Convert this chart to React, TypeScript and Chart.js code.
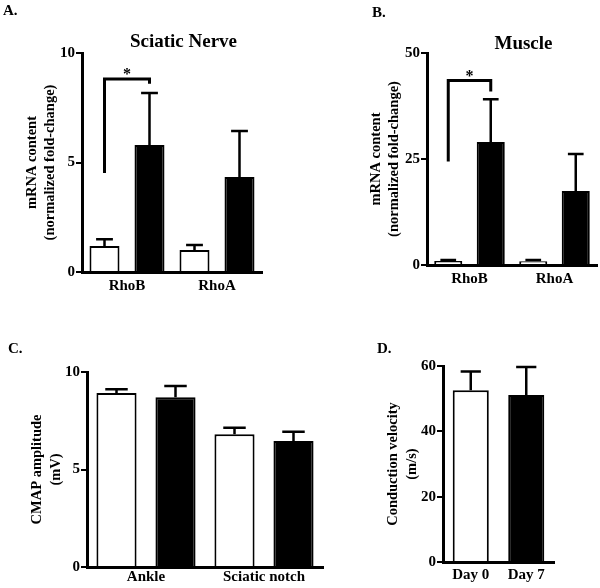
import React, { useEffect, useRef } from 'react';
import { Chart, registerables } from 'chart.js';

Chart.register(...registerables);

const SERIF = "'Liberation Serif', 'Times New Roman', Times, serif";

// ---- Panel A: Sciatic Nerve mRNA ----
const A_CATEGORIES = ['RhoB', 'RhoA'];
const A_CONTROL = [1.19, 1.0];
const A_CONTROL_ERR = [0.3, 0.23];
const A_INJURED = [5.8, 4.34];
const A_INJURED_ERR = [2.37, 2.1];
const A_Y_TICKS = [0, 5, 10];
const A_SIG_BRACKET = [4.52, 8.81, 8.6]; // left start, top, right end

// ---- Panel B: Muscle mRNA ----
const B_CATEGORIES = ['RhoB', 'RhoA'];
const B_CONTROL = [0.94, 0.9];
const B_CONTROL_ERR = [0.25, 0.3];
const B_INJURED = [29.0, 17.45];
const B_INJURED_ERR = [10.1, 8.75];
const B_Y_TICKS = [0, 25, 50];
const B_SIG_BRACKET = [24.4, 43.5, 40.9];

// ---- Panel C: CMAP amplitude ----
const C_CATEGORIES = ['Ankle', 'Sciatic notch'];
const C_DAY0 = [8.92, 6.81];
const C_DAY0_ERR = [0.19, 0.33];
const C_DAY7 = [8.7, 6.46];
const C_DAY7_ERR = [0.58, 0.48];
const C_Y_TICKS = [0, 5, 10];

// ---- Panel D: Conduction velocity ----
const D_CATEGORIES = ['Day 0', 'Day 7'];
const D_VELOCITY = [52.6, 51.1];
const D_VELOCITY_ERR = [5.7, 8.6];
const D_Y_TICKS = [0, 20, 40, 60];

const WHITE = '#ffffff';
const BLACK = '#000000';

type Series = { data: number[]; err: number[]; fill: string | string[] };
type PanelCfg = {
  box: { left: number; top: number; w: number; h: number };
  plot: { l: number; r: number; t: number; b: number };
  categories: string[];
  series: Series[];
  yMax: number;
  yTicks: number[];
  barPct: number;
  yTitle: string[];
  yTitlePad: number;
  yTitleSize: number;
  yTitleLH: number;
  xLabelPad: number;
  letter: { text: string; x: number; y: number };
  title?: { text: string; x: number; y: number };
  bracket?: number[];
};

const PANEL_A: PanelCfg = {
  box: { left: 0, top: 0, w: 300, h: 300 },
  plot: { l: 82, r: 262, t: 53, b: 272 },
  categories: A_CATEGORIES,
  series: [
    { data: A_CONTROL, err: A_CONTROL_ERR, fill: WHITE },
    { data: A_INJURED, err: A_INJURED_ERR, fill: BLACK },
  ],
  yMax: 10,
  yTicks: A_Y_TICKS,
  barPct: 0.667,
  yTitle: ['mRNA content', '(normalized fold-change)'],
  yTitlePad: 23.5,
  yTitleSize: 14.5,
  yTitleLH: 17.5,
  xLabelPad: 5,
  letter: { text: 'A.', x: 3, y: 15 },
  title: { text: 'Sciatic Nerve', x: 183.5, y: 47 },
  bracket: A_SIG_BRACKET,
};

const PANEL_B: PanelCfg = {
  box: { left: 300, top: 0, w: 300, h: 300 },
  plot: { l: 127, r: 297, t: 53, b: 265 },
  categories: B_CATEGORIES,
  series: [
    { data: B_CONTROL, err: B_CONTROL_ERR, fill: WHITE },
    { data: B_INJURED, err: B_INJURED_ERR, fill: BLACK },
  ],
  yMax: 50,
  yTicks: B_Y_TICKS,
  barPct: 0.66,
  yTitle: ['mRNA content', '(normalized fold-change)'],
  yTitlePad: 67.5,
  yTitleSize: 14.5,
  yTitleLH: 17.5,
  xLabelPad: 5,
  letter: { text: 'B.', x: 72, y: 17 },
  title: { text: 'Muscle', x: 223.5, y: 49 },
  bracket: B_SIG_BRACKET,
};

const PANEL_C: PanelCfg = {
  box: { left: 0, top: 300, w: 370, h: 288 },
  plot: { l: 87, r: 323, t: 72, b: 267 },
  categories: C_CATEGORIES,
  series: [
    { data: C_DAY0, err: C_DAY0_ERR, fill: WHITE },
    { data: C_DAY7, err: C_DAY7_ERR, fill: BLACK },
  ],
  yMax: 10,
  yTicks: C_Y_TICKS,
  barPct: 0.68,
  yTitle: ['CMAP amplitude', '(mV)'],
  yTitlePad: 28,
  yTitleSize: 14.5,
  yTitleLH: 18.5,
  xLabelPad: 1,
  letter: { text: 'C.', x: 8, y: 53 },
};

const PANEL_D: PanelCfg = {
  box: { left: 370, top: 300, w: 230, h: 288 },
  plot: { l: 73, r: 184, t: 66, b: 262 },
  categories: D_CATEGORIES,
  series: [{ data: D_VELOCITY, err: D_VELOCITY_ERR, fill: [WHITE, BLACK] }],
  yMax: 60,
  yTicks: D_Y_TICKS,
  barPct: 0.65,
  yTitle: ['Conduction velocity', '(m/s)'],
  yTitlePad: 13.5,
  yTitleSize: 14.5,
  yTitleLH: 19,
  xLabelPad: 4,
  letter: { text: 'D.', x: 7, y: 53 },
};

function BarPanel({ cfg }: { cfg: PanelCfg }) {
  const ref = useRef<HTMLCanvasElement>(null);
  useEffect(() => {
    const { box, plot } = cfg;
    const decor = {
      id: 'decor',
      afterDraw(chart: any) {
        const ctx = chart.ctx as CanvasRenderingContext2D;
        const ys = chart.scales.y;
        ctx.save();
        ctx.fillStyle = '#000';
        ctx.strokeStyle = '#000';
        // error bars
        ctx.lineWidth = 2.5;
        ctx.lineCap = 'butt';
        cfg.series.forEach((s, di) => {
          const meta = chart.getDatasetMeta(di);
          meta.data.forEach((bar: any, i: number) => {
            const v = s.data[i];
            const e = s.err[i];
            const y0 = ys.getPixelForValue(v);
            const y1 = ys.getPixelForValue(v + e);
            const half = bar.width * 0.28;
            ctx.beginPath();
            ctx.moveTo(bar.x, y0);
            ctx.lineTo(bar.x, y1);
            ctx.moveTo(bar.x - half, y1);
            ctx.lineTo(bar.x + half, y1);
            ctx.stroke();
          });
        });
        // significance bracket
        if (cfg.bracket && cfg.series.length > 1) {
          const b0 = chart.getDatasetMeta(0).data[0];
          const b1 = chart.getDatasetMeta(1).data[0];
          const [vs, vt, ve] = cfg.bracket;
          const yt = ys.getPixelForValue(vt);
          ctx.lineWidth = 3;
          ctx.lineJoin = 'miter';
          ctx.beginPath();
          ctx.moveTo(b0.x, ys.getPixelForValue(vs));
          ctx.lineTo(b0.x, yt);
          ctx.lineTo(b1.x, yt);
          ctx.lineTo(b1.x, ys.getPixelForValue(ve));
          ctx.stroke();
          ctx.font = `bold 16px ${SERIF}`;
          ctx.textAlign = 'center';
          ctx.textBaseline = 'alphabetic';
          ctx.fillText('*', (b0.x + b1.x) / 2, yt);
        }
        // panel letter
        ctx.font = `bold 15px ${SERIF}`;
        ctx.textAlign = 'left';
        ctx.textBaseline = 'alphabetic';
        ctx.fillText(cfg.letter.text, cfg.letter.x, cfg.letter.y);
        // title
        if (cfg.title) {
          ctx.font = `bold 19px ${SERIF}`;
          ctx.textAlign = 'center';
          ctx.fillText(cfg.title.text, cfg.title.x, cfg.title.y);
        }
        ctx.restore();
      },
    };
    const tickFont = { family: SERIF, size: 15, weight: 'bold' as const };
    const chart = new Chart(ref.current as HTMLCanvasElement, {
      type: 'bar',
      data: {
        labels: cfg.categories,
        datasets: cfg.series.map((s) => ({
          data: s.data,
          backgroundColor: s.fill as any,
          borderColor: BLACK,
          borderWidth: 2,
          borderSkipped: 'bottom' as const,
          categoryPercentage: 1,
          barPercentage: cfg.barPct,
        })),
      },
      options: {
        responsive: true,
        maintainAspectRatio: false,
        animation: false,
        layout: { padding: { left: 0, top: plot.t, right: box.w - plot.r, bottom: 0 } },
        plugins: {
          legend: { display: false },
          tooltip: { enabled: false },
          title: { display: false },
        },
        scales: {
          x: {
            type: 'category',
            z: 1,
            grid: { display: false, drawTicks: false },
            border: { display: true, color: BLACK, width: 3 },
            ticks: {
              color: BLACK,
              font: tickFont,
              padding: cfg.xLabelPad,
              maxRotation: 0,
              autoSkip: false,
            },
            afterFit: (s: any) => {
              s.height = box.h - plot.b;
            },
          },
          y: {
            min: 0,
            max: cfg.yMax,
            z: 1,
            afterBuildTicks: (s: any) => {
              s.ticks = cfg.yTicks.map((v) => ({ value: v }));
            },
            grid: {
              display: true,
              drawOnChartArea: false,
              drawTicks: true,
              tickLength: 6,
              tickWidth: 2,
              tickColor: BLACK,
              color: BLACK,
              lineWidth: 2,
            },
            border: { display: true, color: BLACK, width: 3 },
            ticks: { color: BLACK, font: tickFont, padding: 1 },
            title: {
              display: true,
              text: cfg.yTitle,
              color: BLACK,
              font: {
                family: SERIF,
                size: cfg.yTitleSize,
                weight: 'bold',
                lineHeight: cfg.yTitleLH + 'px',
              } as any,
              padding: { top: cfg.yTitlePad, bottom: 0 },
            },
            afterFit: (s: any) => {
              s.width = plot.l;
            },
          },
        },
      },
      plugins: [decor],
    });
    return () => chart.destroy();
  }, [cfg]);
  return (
    <div
      style={{
        position: 'absolute',
        left: cfg.box.left,
        top: cfg.box.top,
        width: cfg.box.w,
        height: cfg.box.h,
      }}
    >
      <canvas ref={ref} />
    </div>
  );
}

export default function App() {
  return (
    <div
      style={{
        position: 'absolute',
        left: 0,
        top: 0,
        width: 600,
        height: 588,
        background: '#ffffff',
        overflow: 'hidden',
      }}
    >
      <BarPanel cfg={PANEL_A} />
      <BarPanel cfg={PANEL_B} />
      <BarPanel cfg={PANEL_C} />
      <BarPanel cfg={PANEL_D} />
    </div>
  );
}
